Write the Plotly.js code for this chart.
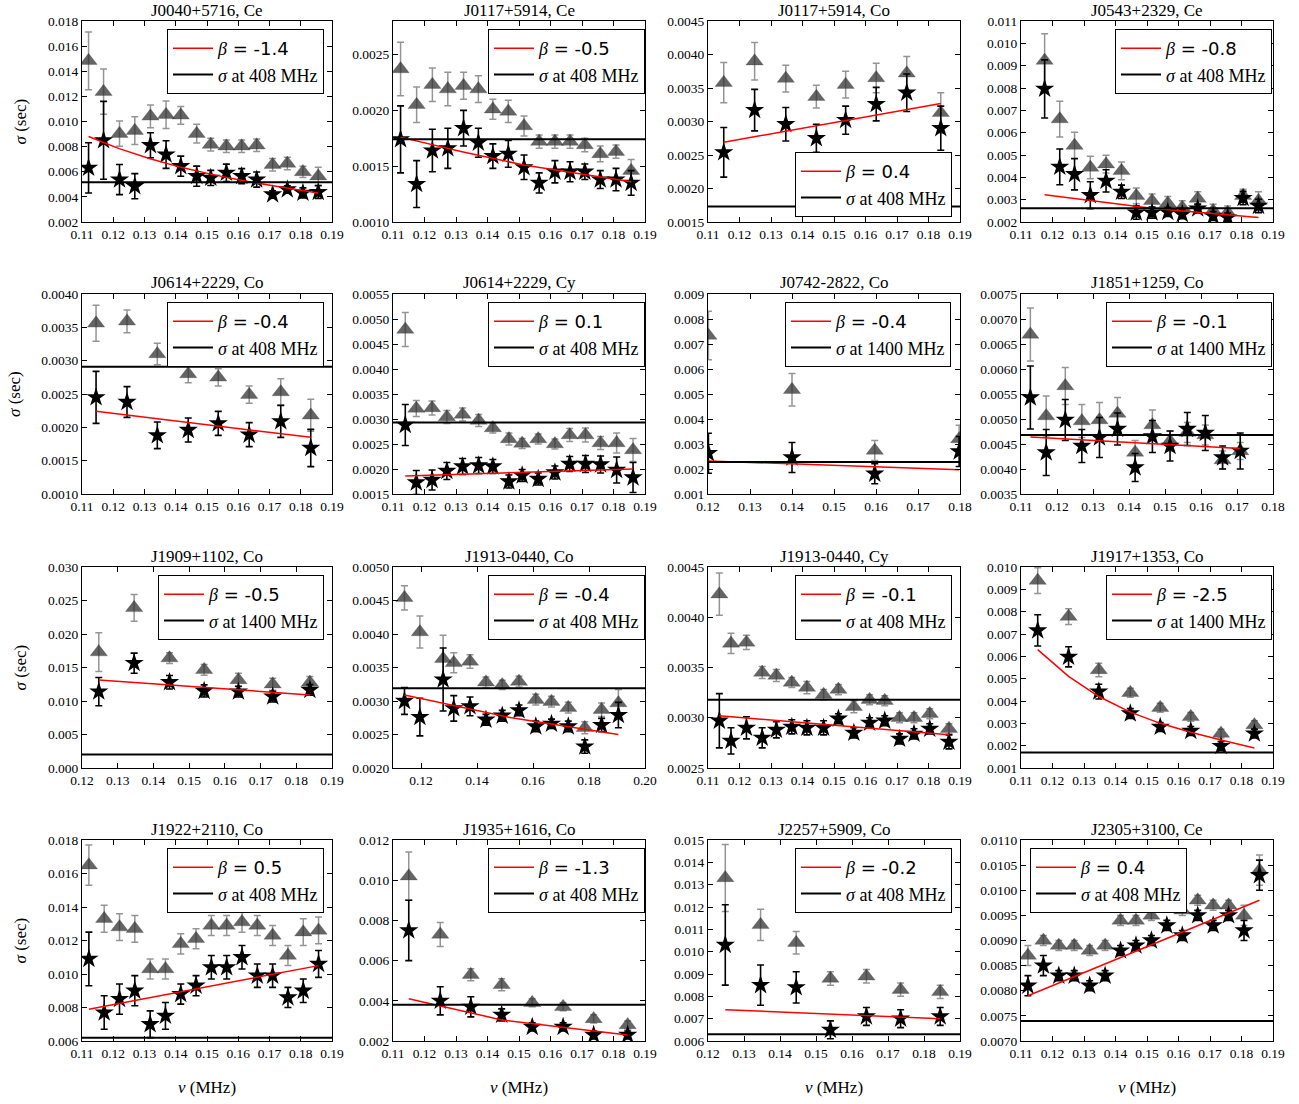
<!DOCTYPE html>
<html><head><meta charset="utf-8">
<script src="https://cdn.plot.ly/plotly-3.0.1.min.js"></script>
<style>html,body{margin:0;padding:0;background:#fff}#chart{width:1299px;height:1104px}</style>
</head><body><div id="chart"></div>
<script>
// ---------------- DATA ----------------
const titles = ["J0040+5716, Ce","J0117+5914, Ce","J0117+5914, Co","J0543+2329, Ce",
  "J0614+2229, Co","J0614+2229, Cy","J0742-2822, Co","J1851+1259, Co",
  "J1909+1102, Co","J1913-0440, Co","J1913-0440, Cy","J1917+1353, Co",
  "J1922+2110, Co","J1935+1616, Co","J2257+5909, Co","J2305+3100, Ce"];
const betas = ["-1.4","-0.5","0.4","-0.8","-0.4","0.1","-0.4","-0.1","-0.5","-0.4","-0.1","-2.5","0.5","-1.3","-0.2","0.4"];
const refFreqs = [408,408,408,408,408,408,1400,1400,1400,408,408,1400,408,408,408,408];
const refSigma = [0.00517,0.00174,0.00173,0.00262,0.00291,0.00293,0.00228,0.00468,0.0020,0.00319,0.00318,0.00169,0.0062,0.0038,0.0063,0.0074];

const freqs = [
 [0.1121,0.1169,0.1220,0.1269,0.1319,0.1369,0.1416,0.1467,0.1512,0.1562,0.1611,0.1659,0.1710,0.1757,0.1807,0.1856],
 [0.1124,0.1175,0.1225,0.1274,0.1324,0.1371,0.1417,0.1466,0.1516,0.1564,0.1614,0.1662,0.1709,0.1758,0.1808,0.1856],
 [0.1150,0.1248,0.1347,0.1444,0.1537,0.1634,0.1731,0.1839],
 [0.1175,0.1223,0.1270,0.1320,0.1370,0.1419,0.1466,0.1516,0.1566,0.1612,0.1661,0.1710,0.1756,0.1805,0.1854],
 [0.1145,0.1244,0.1341,0.1440,0.1536,0.1635,0.1736,0.1832],
 [0.1139,0.1174,0.1224,0.1271,0.1321,0.1372,0.1417,0.1468,0.1510,0.1561,0.1614,0.1661,0.1711,0.1759,0.1810,0.1862],
 [0.1201,0.1400,0.1597,0.1798],
 [0.1126,0.1170,0.1223,0.1269,0.1318,0.1368,0.1417,0.1465,0.1514,0.1562,0.1612,0.1660,0.1709],
 [0.1247,0.1346,0.1445,0.1542,0.1638,0.1734,0.1838],
 [0.1141,0.1196,0.1279,0.1317,0.1375,0.1432,0.1490,0.1550,0.1610,0.1666,0.1726,0.1785,0.1845,0.1905],
 [0.1136,0.1173,0.1222,0.1272,0.1317,0.1366,0.1414,0.1467,0.1514,0.1563,0.1613,0.1661,0.1708,0.1754,0.1804,0.1865],
 [0.1153,0.1251,0.1347,0.1447,0.1542,0.1639,0.1735,0.1841],
 [0.1122,0.1171,0.1220,0.1269,0.1318,0.1367,0.1416,0.1465,0.1514,0.1563,0.1612,0.1661,0.1710,0.1759,0.1808,0.1857],
 [0.1150,0.1250,0.1347,0.1445,0.1542,0.1640,0.1737,0.1845],
 [0.1248,0.1346,0.1445,0.1540,0.1640,0.1735,0.1845],
 [0.1122,0.1171,0.1220,0.1269,0.1318,0.1367,0.1416,0.1465,0.1514,0.1563,0.1612,0.1661,0.1710,0.1759,0.1808,0.1857]
];

const triVals = [
 [0.01483,0.01237,0.00903,0.00927,0.01041,0.01054,0.01049,0.00903,0.00816,0.00803,0.00803,0.00811,0.00655,0.00665,0.00599,0.00565],
 [0.00237,0.00205,0.00223,0.00219,0.00222,0.00219,0.00201,0.00199,0.00186,0.00172,0.00172,0.00172,0.00169,0.00161,0.00163,0.00146],
 [0.00358,0.0039,0.00364,0.00337,0.00355,0.00365,0.00372,0.00313],
 [0.00923,0.00661,0.00542,0.00444,0.00459,0.00429,0.00317,0.00295,0.00284,0.00265,0.00305,0.0025,0.00242,0.00317,0.00295],
 [0.00356,0.00359,0.0031,0.0028,0.00275,0.00249,0.00253,0.00218],
 [0.00479,0.00321,0.00322,0.00304,0.00309,0.00297,0.00282,0.0026,0.00251,0.0026,0.0025,0.00268,0.00268,0.00252,0.00252,0.00238],
 [0.00734,0.00517,0.00274,0.0032],
 [0.00669,0.00506,0.00566,0.00496,0.00498,0.00511,0.00433,0.00488,0.00456,0.00473,0.00468,0.00418,0.00436],
 [0.0173,0.0239,0.0164,0.01465,0.01315,0.0125,0.01275],
 [0.00454,0.00403,0.00363,0.00357,0.00359,0.00328,0.00324,0.00329,0.00302,0.00299,0.0029,0.0026,0.00287,0.00297],
 [0.00423,0.00374,0.00375,0.00345,0.00342,0.00335,0.0033,0.00323,0.00328,0.00311,0.00318,0.00317,0.003,0.003,0.00304,0.00289],
 [0.00939,0.00778,0.00539,0.00437,0.0037,0.00329,0.00254,0.00292],
 [0.0165,0.0133,0.0128,0.0127,0.0103,0.0103,0.0118,0.0121,0.0129,0.0129,0.0131,0.0129,0.0123,0.0111,0.0125,0.0126],
 [0.0102,0.0073,0.0053,0.0048,0.0039,0.0037,0.0031,0.0028],
 [0.0133,0.0112,0.0104,0.0088,0.0089,0.0083,0.0082],
 [0.0087,0.0090,0.0089,0.0089,0.0088,0.0089,0.0094,0.0094,0.0095,0.0097,0.0096,0.0098,0.0097,0.0097,0.0095,0.0104]
];
const triErrs = [
 [0.0023,0.0018,0.001,0.0011,0.0009,0.0011,0.0007,0.00075,0.0005,0.0005,0.0005,0.0005,0.0005,0.0005,0.00045,0.0007],
 [0.00024,0.00016,0.00015,0.00015,0.00012,0.00012,0.00009,0.0001,0.00009,0.00006,0.00006,0.00006,0.00006,0.00007,0.00006,0.0001],
 [0.0003,0.00028,0.0002,0.00017,0.0002,0.00022,0.00025,0.0003],
 [0.0012,0.0008,0.0006,0.0005,0.0004,0.0004,0.00035,0.0003,0.0003,0.0003,0.0003,0.0003,0.0003,0.0003,0.0004],
 [0.00027,0.00017,0.00016,0.00013,0.00013,0.00013,0.0002,0.00024],
 [0.00034,0.00016,0.00014,0.00013,0.00013,0.00012,0.0001,0.00012,0.0001,0.0001,0.0001,0.00013,0.00014,0.00013,0.0002,0.00023],
 [0.00097,0.00065,0.0004,0.00055],
 [0.00053,0.0004,0.00037,0.00033,0.00035,0.00032,0.00024,0.0003,0.0002,0.0002,0.0002,0.00018,0.00017],
 [0.0029,0.002,0.0008,0.0008,0.001,0.0009,0.0009],
 [0.00018,0.00024,0.00035,0.00015,0.0001,0.00008,0.00007,0.00008,0.00008,0.00008,0.00008,0.00009,0.0001,0.0002],
 [0.00021,0.0001,0.00007,0.00006,0.00006,0.00005,0.00006,0.00005,0.00005,0.00006,0.00005,0.00005,0.00005,0.00005,0.00005,0.00005],
 [0.00058,0.00035,0.0003,0.0002,0.0002,0.0002,0.0002,0.0002],
 [0.0012,0.0008,0.0008,0.0008,0.0006,0.0006,0.0006,0.0006,0.0006,0.0006,0.0006,0.0006,0.0006,0.0006,0.0008,0.0008],
 [0.0012,0.0006,0.0003,0.0003,0.0002,0.0002,0.0002,0.0002],
 [0.0015,0.0007,0.0005,0.0003,0.0003,0.0003,0.0003],
 [0.0002,0.0001,0.0001,0.0001,0.0001,0.0001,0.0001,0.0001,0.0001,0.0001,0.0001,0.0001,0.0001,0.0001,0.0002,0.0003]
];
const starVals = [
 [0.00631,0.0085,0.00538,0.00485,0.00811,0.00737,0.00644,0.00565,0.00551,0.00591,0.00565,0.00538,0.00419,0.00459,0.00432,0.00438],
 [0.00174,0.00134,0.00164,0.00166,0.00184,0.00171,0.00159,0.00161,0.00149,0.00135,0.00145,0.00145,0.00145,0.00138,0.00138,0.00135],
 [0.00254,0.00317,0.00296,0.00275,0.00302,0.00326,0.00343,0.0029],
 [0.00796,0.00447,0.00414,0.0032,0.00384,0.00335,0.00242,0.00242,0.00245,0.00235,0.0026,0.00227,0.0022,0.00307,0.00272],
 [0.00245,0.00238,0.00188,0.00196,0.00206,0.00189,0.00209,0.00169],
 [0.00288,0.00173,0.00178,0.00196,0.00205,0.00207,0.00205,0.00175,0.00187,0.0018,0.00193,0.0021,0.0021,0.00209,0.00198,0.00183],
 [0.00263,0.00246,0.00181,0.0027],
 [0.00543,0.00433,0.00498,0.00446,0.00463,0.0048,0.00403,0.00465,0.00446,0.0048,0.00472,0.00423,0.00436],
 [0.0114,0.01565,0.0128,0.0115,0.0114,0.01065,0.01165],
 [0.003,0.00276,0.00332,0.00289,0.00292,0.00272,0.00278,0.00286,0.00262,0.00266,0.00262,0.00232,0.00264,0.00279],
 [0.00297,0.00277,0.0029,0.0028,0.00288,0.00291,0.0029,0.0029,0.00299,0.00285,0.00295,0.00297,0.00279,0.00284,0.00289,0.00276],
 [0.00716,0.00598,0.00442,0.00344,0.00284,0.00266,0.00198,0.00254],
 [0.0109,0.0077,0.0085,0.0090,0.0070,0.0075,0.0088,0.0093,0.0104,0.0104,0.0110,0.0099,0.0099,0.0086,0.0090,0.0106],
 [0.0075,0.0040,0.0037,0.0033,0.0027,0.0027,0.0023,0.0023],
 [0.0103,0.0085,0.0084,0.0065,0.0071,0.0070,0.0071],
 [0.0081,0.0085,0.0083,0.0083,0.0081,0.0083,0.0088,0.0089,0.0090,0.0093,0.0091,0.0095,0.0093,0.0095,0.0092,0.0103]
];
const starErrs = [
 [0.002,0.0031,0.0012,0.001,0.001,0.0011,0.0008,0.0008,0.0006,0.0007,0.0006,0.0006,0.0003,0.0003,0.0004,0.0005],
 [0.0003,0.00021,0.00019,0.00018,0.00016,0.00013,0.00011,0.00012,0.00011,0.00009,0.0001,0.00009,0.00007,0.00008,0.0001,0.00011],
 [0.00037,0.00031,0.00025,0.00021,0.00021,0.00025,0.00028,0.00033],
 [0.0013,0.0008,0.0007,0.0006,0.0005,0.0003,0.0003,0.00025,0.0002,0.0002,0.0002,0.0002,0.0002,0.0003,0.0003],
 [0.00039,0.00023,0.0002,0.00018,0.00018,0.00018,0.00024,0.00028],
 [0.00041,0.00024,0.0002,0.00017,0.00016,0.00016,0.00014,0.00013,0.00012,0.00012,0.00013,0.00015,0.00017,0.00017,0.00026,0.0003],
 [0.0008,0.0006,0.0004,0.0006],
 [0.00063,0.00046,0.00041,0.00033,0.0004,0.00032,0.00028,0.00032,0.0003,0.00033,0.00035,0.00023,0.00036],
 [0.0021,0.0015,0.001,0.0009,0.0008,0.0008,0.0008],
 [0.0002,0.00028,0.00047,0.00019,0.00014,0.00008,0.00008,0.00008,0.00008,0.00007,0.00008,0.0001,0.0001,0.00019],
 [0.00027,0.00013,0.00011,0.0001,0.00008,0.00007,0.00007,0.00007,0.00005,0.00005,0.00005,0.00005,0.00005,0.00005,0.00005,0.00007],
 [0.0007,0.00045,0.00033,0.00022,0.0002,0.0002,0.0002,0.0002],
 [0.0016,0.001,0.0009,0.0009,0.0008,0.0008,0.0006,0.0006,0.0007,0.0007,0.0007,0.0007,0.0007,0.0006,0.0007,0.0008],
 [0.0015,0.0007,0.0005,0.0003,0.0002,0.0002,0.0002,0.0002],
 [0.0018,0.0009,0.0007,0.0004,0.0004,0.0004,0.0004],
 [0.0002,0.0002,0.0001,0.0001,0.0001,0.0001,0.0001,0.0001,0.0001,0.0001,0.0001,0.0001,0.0001,0.0001,0.0002,0.0003]
];
const fitFreqs = [
 [0.1121,0.1219,0.1318,0.1417,0.1515,0.1613,0.1711,0.1809,0.1856],
 [0.1124,0.1319,0.1515,0.1711,0.1856],
 [0.1150,0.1839],
 [0.1175,0.1515,0.1854],
 [0.1145,0.1832],
 [0.1139,0.1862],
 [0.1201,0.1798],
 [0.1126,0.1709],
 [0.1247,0.1838],
 [0.1141,0.1523,0.1905],
 [0.1136,0.1865],
 [0.1153,0.1251,0.1347,0.1447,0.1542,0.1639,0.1735,0.1841],
 [0.1122,0.1857],
 [0.1150,0.1445,0.1845],
 [0.1248,0.1845],
 [0.1122,0.1857]
];
const fitVals = [
 [0.0088,0.00784,0.00703,0.00635,0.00579,0.0053,0.00488,0.0045,0.0043],
 [0.00176,0.00163,0.00151,0.00142,0.00136],
 [0.00269,0.00327],
 [0.00322,0.00262,0.0022],
 [0.00224,0.00185],
 [0.00186,0.0020],
 [0.00232,0.00197],
 [0.00464,0.00441],
 [0.01315,0.0109],
 [0.00309,0.00275,0.0025],
 [0.00302,0.00283],
 [0.0063,0.0051,0.0042,0.0035,0.0030,0.0026,0.00225,0.0019],
 [0.0079,0.0105],
 [0.0041,0.00305,0.0023],
 [0.0074,0.0070],
 [0.0079,0.0098]
];

// ---------------- STYLE / LAYOUT CONFIG ----------------
const xRanges = [[0.11,0.19],[0.11,0.19],[0.11,0.19],[0.11,0.19],[0.11,0.19],[0.11,0.19],[0.12,0.18],[0.11,0.18],
                 [0.12,0.19],[0.11,0.20],[0.11,0.19],[0.11,0.19],[0.11,0.19],[0.11,0.19],[0.12,0.19],[0.11,0.19]];
const xDticks = [0.01,0.01,0.01,0.01,0.01,0.01,0.01,0.01,0.01,0.02,0.01,0.01,0.01,0.01,0.01,0.01];
const yRanges = [[0.002,0.018],[0.001,0.0028],[0.0015,0.0045],[0.002,0.011],[0.001,0.004],[0.0015,0.0055],[0.001,0.009],[0.0035,0.0075],
                 [0,0.03],[0.002,0.005],[0.0025,0.0045],[0.001,0.010],[0.006,0.018],[0.002,0.012],[0.006,0.015],[0.007,0.011]];
const yDticks = [0.002,0.0005,0.0005,0.001,0.0005,0.0005,0.001,0.0005,0.005,0.0005,0.0005,0.001,0.002,0.002,0.001,0.0005];
const yFormats = ['.3f','.4f','.4f','.3f','.4f','.4f','.3f','.4f','.3f','.4f','.4f','.3f','.3f','.3f','.3f','.4f'];
// legend placement in pixels
const legPos = [
 {x:324,y:29,xa:'right',ya:'top'},{x:645,y:29,xa:'right',ya:'top'},{x:952,y:217,xa:'right',ya:'bottom'},{x:1272,y:29,xa:'right',ya:'top'},
 {x:324,y:302,xa:'right',ya:'top'},{x:645,y:302,xa:'right',ya:'top'},{x:951,y:302,xa:'right',ya:'top'},{x:1272,y:302,xa:'right',ya:'top'},
 {x:324,y:575,xa:'right',ya:'top'},{x:645,y:575,xa:'right',ya:'top'},{x:952,y:575,xa:'right',ya:'top'},{x:1272,y:575,xa:'right',ya:'top'},
 {x:324,y:848,xa:'right',ya:'top'},{x:645,y:848,xa:'right',ya:'top'},{x:952,y:848,xa:'right',ya:'top'},{x:1030,y:848,xa:'left',ya:'top'}
];

const W = 1299, H = 1104;
const colL = [82, 393, 708, 1021], colR = [332, 645, 960, 1273];
const rowT = [21, 294, 567, 840], rowB = [222, 494, 768, 1041];
const FONT = 'Liberation Serif, Times New Roman, serif';

const data = [];
const layout = {
  width: W, height: H, margin: {l:0, r:0, t:0, b:0},
  paper_bgcolor: '#fff', plot_bgcolor: '#fff',
  font: {family: FONT, color: '#000', size: 13.5},
  showlegend: true, annotations: []
};

for (let i = 0; i < 16; i++) {
  const r = Math.floor(i / 4), c = i % 4;
  const n = i === 0 ? '' : String(i + 1);
  const lg = 'legend' + n;
  const eps = 1e-9;
  layout['xaxis' + n] = {
    domain: [colL[c] / W, colR[c] / W], anchor: 'y' + n,
    range: [xRanges[i][0] - eps, xRanges[i][1] + eps],
    tickmode: 'linear', tick0: 0, dtick: xDticks[i], tickformat: '.2f',
    ticks: 'inside', ticklen: 5, tickcolor: '#000', mirror: 'allticks',
    showline: true, linecolor: '#000', linewidth: 1, showgrid: false, zeroline: false,
    tickfont: {family: FONT, size: 13.5, color: '#000'}, fixedrange: true
  };
  layout['yaxis' + n] = {
    domain: [1 - rowB[r] / H, 1 - rowT[r] / H], anchor: 'x' + n,
    range: [yRanges[i][0] - eps, yRanges[i][1] + eps],
    tickmode: 'linear', tick0: 0, dtick: yDticks[i], tickformat: yFormats[i],
    ticks: 'inside', ticklen: 5, tickcolor: '#000', mirror: 'allticks',
    showline: true, linecolor: '#000', linewidth: 1, showgrid: false, zeroline: false,
    tickfont: {family: FONT, size: 13.5, color: '#000'}, fixedrange: true
  };
  const lp = legPos[i];
  layout[lg] = {
    x: lp.x / W, y: 1 - lp.y / H, xanchor: lp.xa, yanchor: lp.ya,
    xref: 'paper', yref: 'paper',
    bgcolor: '#fff', bordercolor: '#000', borderwidth: 1,
    font: {family: FONT, size: 18, color: '#000'},
    itemwidth: 40, tracegroupgap: 0, traceorder: 'normal'
  };
  layout.annotations.push({
    text: titles[i], xref: 'paper', yref: 'paper',
    x: (colL[c] + colR[c]) / 2 / W, y: 1 - (rowT[r] - 11) / H,
    xanchor: 'center', yanchor: 'middle', showarrow: false,
    font: {family: FONT, size: 17, color: '#000'}
  });

  const ax = {xaxis: 'x' + n, yaxis: 'y' + n};
  data.push(Object.assign({
    type: 'scatter', mode: 'markers', x: freqs[i], y: triVals[i],
    marker: {symbol: 'triangle-up', size: 15, color: 'rgba(50,50,50,0.75)', line: {width: 0.5, color: 'rgba(60,60,60,0.5)'}},
    error_y: {type: 'data', array: triErrs[i], visible: true, color: 'rgba(0,0,0,0.42)', thickness: 1.5, width: 3.5},
    showlegend: false, hoverinfo: 'skip'
  }, ax));
  data.push(Object.assign({
    type: 'scatter', mode: 'markers', x: freqs[i], y: starVals[i],
    marker: {symbol: 'star', size: 14.5, color: '#000'},
    error_y: {type: 'data', array: starErrs[i], visible: true, color: '#000', thickness: 1.6, width: 3.5},
    showlegend: false, hoverinfo: 'skip'
  }, ax));
  data.push(Object.assign({
    type: 'scatter', mode: 'lines', x: fitFreqs[i], y: fitVals[i],
    line: {color: '#ff0000', width: 1.5},
    name: '<i>β</i><span style="font-family:DejaVu Sans"> = ' + betas[i] + '</span>',
    legend: lg, showlegend: true, hoverinfo: 'skip'
  }, ax));
  data.push(Object.assign({
    type: 'scatter', mode: 'lines', x: xRanges[i], y: [refSigma[i], refSigma[i]],
    line: {color: '#000', width: 2},
    name: '<i>σ</i> at ' + refFreqs[i] + ' MHz',
    legend: lg, showlegend: true, hoverinfo: 'skip'
  }, ax));
}

// axis titles
const yTitleX = [20, 15, 20, 20];
for (let r = 0; r < 4; r++) {
  layout.annotations.push({
    text: '<i>σ</i> (sec)', xref: 'paper', yref: 'paper',
    x: yTitleX[r] / W, y: 1 - (rowT[r] + rowB[r]) / 2 / H,
    xanchor: 'center', yanchor: 'middle', textangle: -90, showarrow: false,
    font: {family: FONT, size: 17, color: '#000'}
  });
}
for (let c = 0; c < 4; c++) {
  layout.annotations.push({
    text: '<i>ν</i> (MHz)', xref: 'paper', yref: 'paper',
    x: (colL[c] + colR[c]) / 2 / W, y: 1 - 1087 / H,
    xanchor: 'center', yanchor: 'middle', showarrow: false,
    font: {family: FONT, size: 17, color: '#000'}
  });
}

Plotly.newPlot('chart', data, layout, {staticPlot: true, displayModeBar: false});
</script>
</body></html>
